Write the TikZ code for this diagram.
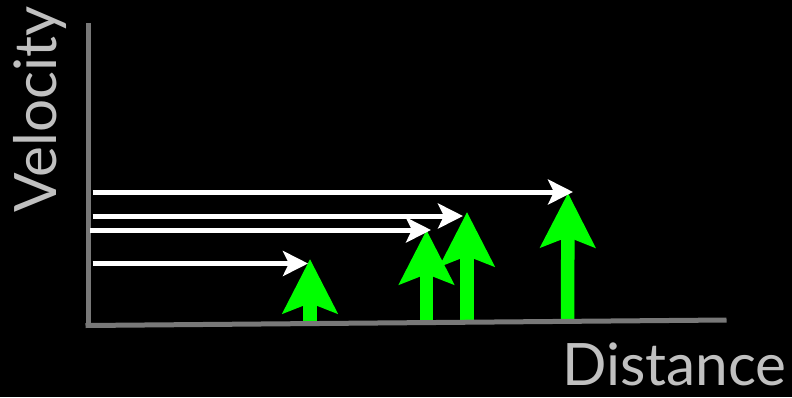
\documentclass[tikz,border=0pt]{standalone}
\usepackage{fontspec}
\setmainfont{Lato}
\usetikzlibrary{arrows.meta}
\definecolor{axisgray}{HTML}{787878}
\definecolor{labelgray}{HTML}{C0C0C0}
\definecolor{lime}{HTML}{00FF00}
\begin{document}
\begin{tikzpicture}[x=1pt,y=-1pt,
  axisline/.style={draw=axisgray,line width=5pt},
  rangearrow/.style={draw=white,line width=5pt,
    -{Stealth[length=25pt,width=25pt,inset=6pt]}},
  speedarrow/.style={draw=lime,line width=13.5pt,
    -{Stealth[length=54pt,width=54pt,inset=10pt]}},
  axislabel/.style={text=labelgray,inner sep=0pt,font=\fontsize{58.5}{58.5}\selectfont}]
  % background
  \fill[black] (0,0) rectangle (792,397);
  \useasboundingbox (0,0) rectangle (792,397);

  % axes end points
  \coordinate (ytop) at (88,23);
  \coordinate (ybot) at (88,328);
  \coordinate (xleft) at (85.5,325.5);
  \coordinate (xright) at (726.5,320);

  % green arrows: bases and tips
  \coordinate (g1b) at (310,325);   \coordinate (g1t) at (310,259);
  \coordinate (g2b) at (426.5,324); \coordinate (g2t) at (426.5,230);
  \coordinate (g3b) at (467,323.5); \coordinate (g3t) at (467,212);
  \coordinate (g4b) at (567.5,322); \coordinate (g4t) at (568,193);

  % white arrows: starts and tips
  \coordinate (w1s) at (92.7,192);  \coordinate (w1t) at (573,192);
  \coordinate (w2s) at (92.7,216);  \coordinate (w2t) at (463,216);
  \coordinate (w3s) at (90,230);    \coordinate (w3t) at (431,230);
  \coordinate (w4s) at (92.7,263.5);\coordinate (w4t) at (308,263.5);

  \draw[speedarrow] (g1b) -- (g1t);
  \draw[speedarrow] (g2b) -- (g2t);
  \draw[speedarrow] (g3b) -- (g3t);
  \draw[speedarrow] (g4b) -- (g4t);

  \draw[axisline] (ytop) -- (ybot);
  \draw[axisline] (xleft) -- (xright);

  \draw[rangearrow] (w1s) -- (w1t);
  \draw[rangearrow] (w2s) -- (w2t);
  \draw[rangearrow] (w3s) -- (w3t);
  \draw[rangearrow] (w4s) -- (w4t);

  \node[axislabel,rotate=90,anchor=base west] (vel) at (56,213) {Velocity};
  \node[axislabel,anchor=base west] (dist) at (562,385) {Distance};
\end{tikzpicture}
\end{document}
